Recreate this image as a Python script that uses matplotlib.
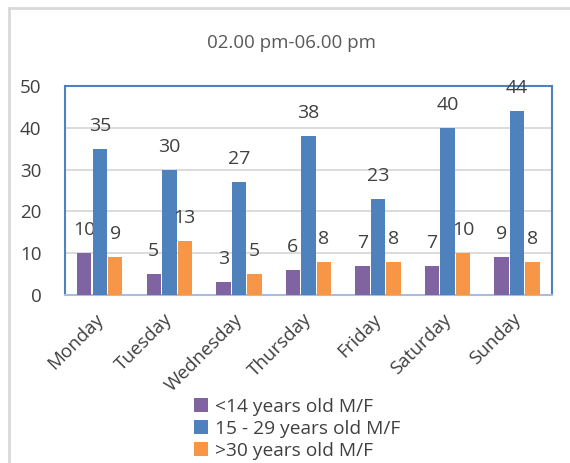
"""Grouped bar chart: visitors by age group, 02.00 pm-06.00 pm."""

import matplotlib
matplotlib.use('Agg')  # Non-interactive backend
import matplotlib.pyplot as plt
import matplotlib.transforms as mtransforms
from matplotlib.lines import Line2D
import numpy as np

# Data
days = ['Monday', 'Tuesday', 'Wednesday', 'Thursday', 'Friday', 'Saturday', 'Sunday']
under_14 = [10, 5, 3, 6, 7, 7, 9]
age_15_29 = [35, 30, 27, 38, 23, 40, 44]
over_30 = [9, 13, 5, 8, 8, 10, 8]
series_names = ['<14 years old M/F', '15 - 29 years old M/F', '>30 years old M/F']
y_ticks = [0, 10, 20, 30, 40, 50]

colors = ['#8064A2', '#4F81BD', '#F79646']
text_color = '#404040'

plt.rcParams['font.family'] = ['Open Sans', 'DejaVu Sans']

fig = plt.figure(figsize=(5.7, 4.63), dpi=100)
ax = fig.add_axes([0.114, 0.363, 0.854, 0.451])

x = np.arange(len(days))
bar_w = 0.208
step = 0.223

for i, (vals, name) in enumerate(zip([under_14, age_15_29, over_30], series_names)):
    pos = x + (i - 1) * step
    ax.bar(pos, vals, width=bar_w, color=colors[i], label=name, zorder=3)
    for px, v in zip(pos, vals):
        ax.annotate(str(v), (px, v), xytext=(0, 16.5), textcoords='offset points',
                    ha='center', va='center', fontsize=14, color=text_color)

ax.set_xlim(-0.5, len(days) - 0.5)
ax.set_ylim(0, 50)
ax.set_yticks(y_ticks)
ax.tick_params(axis='y', length=0, pad=17, labelsize=13.5, labelcolor=text_color)
ax.tick_params(axis='x', length=0, pad=11, labelsize=13.5, labelcolor=text_color)
ax.set_xticks(x)
ax.set_xticklabels(days, rotation=45, ha='right', rotation_mode='anchor')

# nudge rotated day labels slightly left
shift = mtransforms.ScaledTranslation(-4 / 72, 0, fig.dpi_scale_trans)
for lbl in ax.get_xticklabels():
    lbl.set_transform(lbl.get_transform() + shift)

# Grid
ax.grid(axis='y', color='#D9D9D9', linewidth=1.3, zorder=0)

for side in ['left', 'top', 'right']:
    ax.spines[side].set_color('#4F81BD')
    ax.spines[side].set_linewidth(1.5)
ax.spines['bottom'].set_color('#A9BEDD')
ax.spines['bottom'].set_linewidth(1.5)

fig.text(0.512, 0.907, '02.00 pm-06.00 pm', ha='center', va='center',
         fontsize=13.5, color='#595959')

ax.legend(loc='upper left', bbox_to_anchor=(0.266, -0.493), ncol=1, frameon=False,
          fontsize=13.8, handlelength=0.7, handleheight=0.7, handletextpad=0.35,
          labelspacing=0.2, borderaxespad=0, borderpad=0, labelcolor=text_color)

# Outer chart frame (left and top edges)
fig.add_artist(Line2D([0.015, 0.015], [0.0, 0.982], transform=fig.transFigure,
                      color='#D9D9D9', linewidth=2))
fig.add_artist(Line2D([0.015, 1.0], [0.982, 0.982], transform=fig.transFigure,
                      color='#D9D9D9', linewidth=2))

plt.savefig('out.png', dpi=100)
plt.close()
